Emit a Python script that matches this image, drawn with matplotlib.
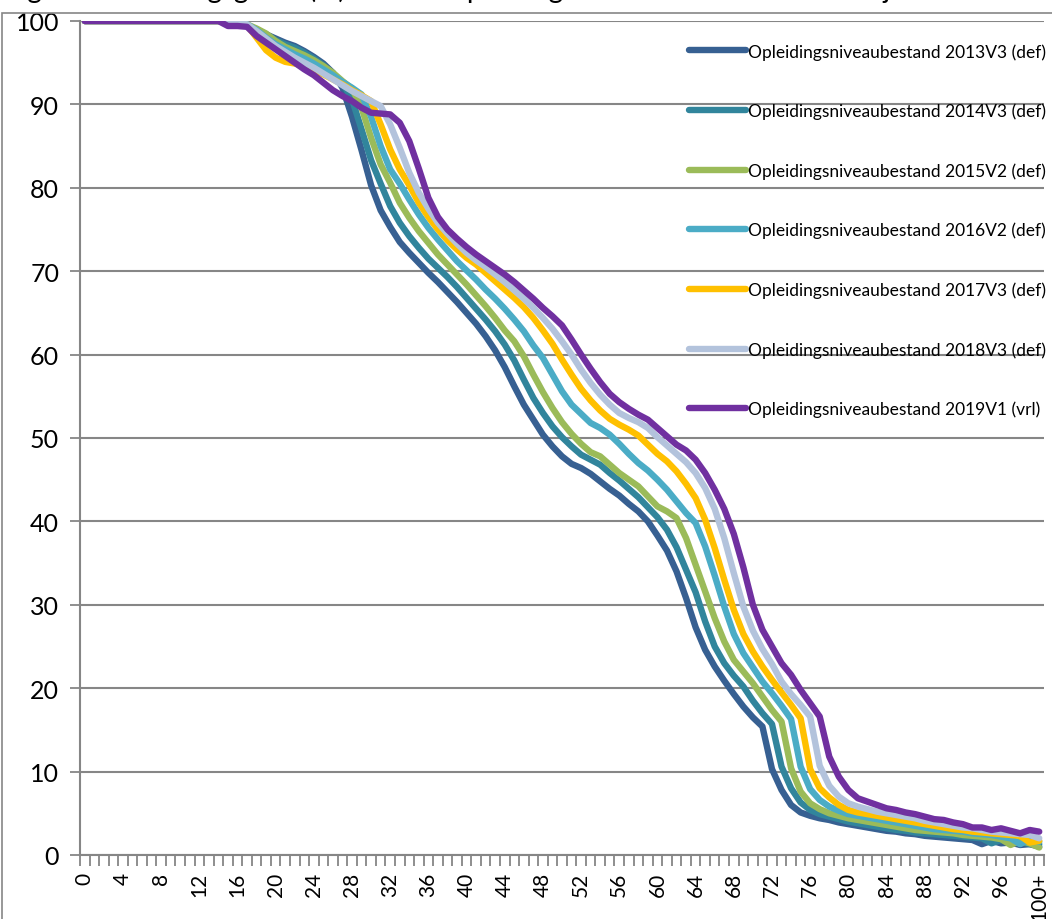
import matplotlib
matplotlib.use("Agg")
import matplotlib.pyplot as plt
from matplotlib.patches import Rectangle

plt.rcParams['font.family'] = ['Lato', 'DejaVu Sans']

# categories: age 0 .. 99 and 100+
ages = [str(a) for a in range(100)] + ['100+']

s2013 = [100, 100, 100, 100, 100, 100, 100, 100, 100, 100, 100, 100, 100, 100, 100, 100,
         99.8, 99.4, 98.9, 98.4, 97.9, 97.4, 97.0, 96.4, 95.7, 94.9,
         93.8, 92.0, 88.5, 84.5, 80.3, 77.3, 75.3, 73.5, 72.2, 71.0,
         69.8, 68.7, 67.5, 66.3, 65.0, 63.7, 62.2, 60.5, 58.5, 56.2,
         54.0, 52.2, 50.4, 49.0, 47.8, 46.9, 46.4, 45.7, 44.8, 43.9,
         43.1, 42.1, 41.2, 40.0, 38.3, 36.5, 34.0, 30.8, 27.3, 24.6,
         22.6, 20.9, 19.3, 17.8, 16.5, 15.4, 10.3, 7.8, 6.0, 5.1,
         4.7, 4.4, 4.2, 3.9, 3.7, 3.5, 3.3, 3.1, 2.9, 2.8,
         2.6, 2.5, 2.3, 2.2, 2.1, 2.0, 1.9, 1.8, 1.3, 1.7,
         1.4, 1.5, 1.2, 1.3, 1.0]

s2014 = [100, 100, 100, 100, 100, 100, 100, 100, 100, 100, 100, 100, 100, 100, 100, 100,
         99.8, 99.5, 99.0, 98.4, 97.7, 97.2, 96.8, 96.2, 95.5, 94.7,
         93.7, 92.6, 90.6, 87.0, 83.3, 80.5, 77.8, 75.8, 74.2, 72.8,
         71.5, 70.4, 69.3, 68.1, 66.8, 65.5, 64.2, 62.8, 61.2, 59.3,
         57.0, 54.8, 53.0, 51.4, 50.1, 49.0, 48.0, 47.4, 46.8, 45.8,
         44.9, 43.9, 42.9, 41.7, 40.5, 39.0, 36.9, 34.2, 31.5, 28.0,
         25.0, 23.0, 21.5, 20.2, 18.5, 17.0, 15.7, 10.6, 8.0, 6.3,
         5.4, 4.9, 4.6, 4.3, 4.0, 3.8, 3.6, 3.4, 3.2, 3.0,
         2.9, 2.7, 2.6, 2.5, 2.4, 2.3, 2.2, 2.1, 2.0, 1.4,
         1.8, 1.5, 1.6, 1.3, 1.3]

s2015 = [100, 100, 100, 100, 100, 100, 100, 100, 100, 100, 100, 100, 100, 100, 100, 100,
         99.9, 99.6, 99.1, 98.5, 97.6, 96.9, 96.4, 95.9, 95.3, 94.6,
         93.8, 92.8, 91.9, 89.6, 86.0, 82.8, 80.6, 78.2, 76.4, 74.8,
         73.4, 72.0, 70.8, 69.6, 68.4, 67.1, 65.8, 64.4, 62.9, 61.6,
         59.8, 57.6, 55.5, 53.6, 51.9, 50.5, 49.3, 48.3, 47.8, 46.8,
         45.8, 45.0, 44.2, 43.0, 41.8, 41.2, 40.4, 38.0, 34.8, 31.6,
         28.4, 25.6, 23.4, 22.0, 20.6, 19.0, 17.4, 16.0, 10.4, 7.6,
         6.2, 5.5, 5.0, 4.7, 4.4, 4.2, 4.0, 3.8, 3.6, 3.4,
         3.2, 3.0, 2.9, 2.8, 2.7, 2.6, 2.4, 2.3, 2.2, 2.1,
         1.9, 1.2, 1.7, 1.4, 0.9]

s2016 = [100, 100, 100, 100, 100, 100, 100, 100, 100, 100, 100, 100, 100, 100, 100, 100,
         99.9, 99.6, 98.9, 98.0, 97.2, 96.6, 96.0, 95.5, 94.9, 94.2,
         93.5, 92.7, 92.0, 91.2, 88.5, 85.0, 82.2, 80.5, 78.6, 76.8,
         75.2, 73.8, 72.5, 71.2, 70.1, 69.0, 67.8, 66.7, 65.5, 64.2,
         62.8, 61.1, 59.6, 57.6, 55.6, 54.0, 52.9, 51.8, 51.2, 50.4,
         49.3, 48.1, 47.0, 46.1, 45.0, 43.8, 42.4, 41.0, 39.8, 37.0,
         33.5, 29.8, 26.5, 24.2, 22.5, 20.8, 19.4, 17.9, 16.3, 10.6,
         7.9, 6.6, 5.8, 5.3, 4.9, 4.7, 4.5, 4.3, 4.1, 3.9,
         3.7, 3.5, 3.3, 3.1, 3.0, 2.9, 2.8, 2.6, 2.5, 2.4,
         2.2, 2.0, 1.3, 1.9, 1.6]

s2017 = [100, 100, 100, 100, 100, 100, 100, 100, 100, 100, 100, 100, 100, 100, 100, 100,
         99.9, 99.5, 98.0, 96.5, 95.6, 95.1, 94.9, 94.6, 94.2, 93.6,
         93.0, 92.4, 91.7, 91.1, 90.4, 87.6, 84.6, 82.2, 80.3, 78.2,
         76.5, 75.0, 73.7, 72.6, 71.6, 70.8, 69.8, 68.8, 67.8, 66.8,
         65.7, 64.4, 62.9, 61.3, 59.4, 57.6, 55.9, 54.5, 53.3, 52.3,
         51.6, 51.0, 50.3, 49.2, 48.1, 47.2, 46.0, 44.5, 42.8, 40.2,
         36.8, 33.0, 29.4, 26.5, 24.4, 22.6, 21.0, 19.5, 18.0, 16.4,
         10.3, 8.0, 6.9, 6.0, 5.4, 5.1, 4.9, 4.7, 4.5, 4.3,
         4.1, 3.9, 3.7, 3.5, 3.3, 3.1, 3.0, 2.8, 2.7, 2.6,
         2.5, 2.4, 2.3, 1.5, 1.7]

s2018 = [100, 100, 100, 100, 100, 100, 100, 100, 100, 100, 100, 100, 100, 100, 100, 100,
         99.9, 99.6, 98.8, 97.9, 97.0, 96.3, 95.6, 95.0, 94.4, 93.7,
         93.0, 92.3, 91.6, 91.0, 90.4, 89.8, 87.6, 84.8, 81.8, 79.4,
         77.5, 75.8, 74.5, 73.3, 72.2, 71.3, 70.5, 69.6, 68.7, 67.7,
         66.7, 65.6, 64.4, 63.1, 61.6, 60.0, 58.2, 56.6, 55.2, 54.0,
         53.0, 52.4, 51.9, 51.2, 50.1, 49.1, 48.1, 47.1, 45.8, 44.0,
         41.5, 38.0, 33.8, 29.8, 26.9, 24.7, 22.9, 20.8, 19.3, 18.0,
         16.6, 10.7, 8.3, 7.0, 6.2, 5.8, 5.5, 5.2, 5.0, 4.8,
         4.6, 4.4, 4.1, 3.9, 3.7, 3.5, 3.3, 3.2, 3.0, 2.8,
         2.7, 2.6, 2.5, 2.4, 2.0]

s2019 = [100, 100, 100, 100, 100, 100, 100, 100, 100, 100, 100, 100, 100, 100, 100, 99.4,
         99.4, 99.3, 98.2, 97.4, 96.6, 95.8, 95.0, 94.2, 93.5, 92.6,
         91.7, 91.0, 90.4, 89.6, 89.0, 88.9, 88.8, 87.8, 85.6, 82.3,
         78.8, 76.5, 75.0, 73.9, 72.9, 72.0, 71.2, 70.4, 69.6, 68.7,
         67.7, 66.7, 65.6, 64.6, 63.5, 61.8, 60.0, 58.3, 56.7, 55.3,
         54.3, 53.5, 52.8, 52.2, 51.2, 50.2, 49.2, 48.5, 47.4, 45.8,
         43.8, 41.5, 38.5, 34.5, 30.0, 27.0, 25.0, 23.0, 21.6, 19.8,
         18.2, 16.6, 11.8, 9.4, 7.8, 6.8, 6.4, 6.0, 5.6, 5.4,
         5.1, 4.9, 4.6, 4.3, 4.2, 3.9, 3.7, 3.3, 3.3, 3.0,
         3.2, 2.9, 2.6, 3.0, 2.8]

series_names = ['Opleidingsniveaubestand 2013V3 (def)',
                'Opleidingsniveaubestand 2014V3 (def)',
                'Opleidingsniveaubestand 2015V2 (def)',
                'Opleidingsniveaubestand 2016V2 (def)',
                'Opleidingsniveaubestand 2017V3 (def)',
                'Opleidingsniveaubestand 2018V3 (def)',
                'Opleidingsniveaubestand 2019V1 (vrl)']
series_values = [s2013, s2014, s2015, s2016, s2017, s2018, s2019]
colors = ['#376092', '#31859c', '#9bbb59', '#4bacc6', '#ffc000', '#b3c3dc', '#7030a0']

grey = '#868686'
lw = 4.6

fig = plt.figure(figsize=(10.52, 9.2), dpi=100)
ax = fig.add_axes([80 / 1052, 1 - 856 / 920, (1044 - 80) / 1052, (856 - 22) / 920])

x = list(range(len(ages)))
for name, vals, col in zip(series_names, series_values, colors):
    ax.plot(x, vals, color=col, lw=lw, label=name,
            solid_joinstyle='round', solid_capstyle='round')

ax.set_xlim(-0.5, len(ages) - 0.5)
ax.set_ylim(0, 100)
ax.set_yticks(range(0, 101, 10))
ax.yaxis.grid(True, color=grey, lw=1.5)
ax.set_axisbelow(True)

ax.set_xticks(x[::4])
ax.set_xticklabels(ages[::4], rotation=90, fontsize=15)
ax.set_xticks([i - 0.5 for i in range(len(ages) + 1)], minor=True)
ax.tick_params(axis='x', which='major', length=0, pad=12)
ax.tick_params(axis='x', which='minor', length=8, width=1.3, color=grey, direction='out')
ax.tick_params(axis='y', length=7, width=1.3, color=grey, labelsize=18, pad=8)

for side in ['top', 'right']:
    ax.spines[side].set_visible(False)
for side in ['left', 'bottom']:
    ax.spines[side].set_color(grey)
    ax.spines[side].set_linewidth(1.5)

leg = ax.legend(loc='upper left', bbox_to_anchor=(689 / 1052, 1 - 44 / 920),
                bbox_transform=fig.transFigure, frameon=False, fontsize=12.5,
                handlelength=3.3, handletextpad=0.1, labelspacing=2.48,
                borderaxespad=0, borderpad=0)
for line in leg.get_lines():
    line.set_linewidth(lw)
    line.set_solid_capstyle('round')

# outer chart border (only left and top edges are inside the image)
fig.patches.append(Rectangle((2 / 1052, -0.1), 1.2, 1 - 14 / 920 + 0.1, transform=fig.transFigure,
                             fill=False, edgecolor=grey, lw=1.2))

# title, cut off at the top of the image
fig.text(0.005, 1 + 2 / 920, 'Figuur 1  Dekkingsgraad (%) van het opleidingsniveaubestand naar leeftijd',
         fontsize=20, va='baseline', ha='left')

fig.savefig('out.png', dpi=100)
